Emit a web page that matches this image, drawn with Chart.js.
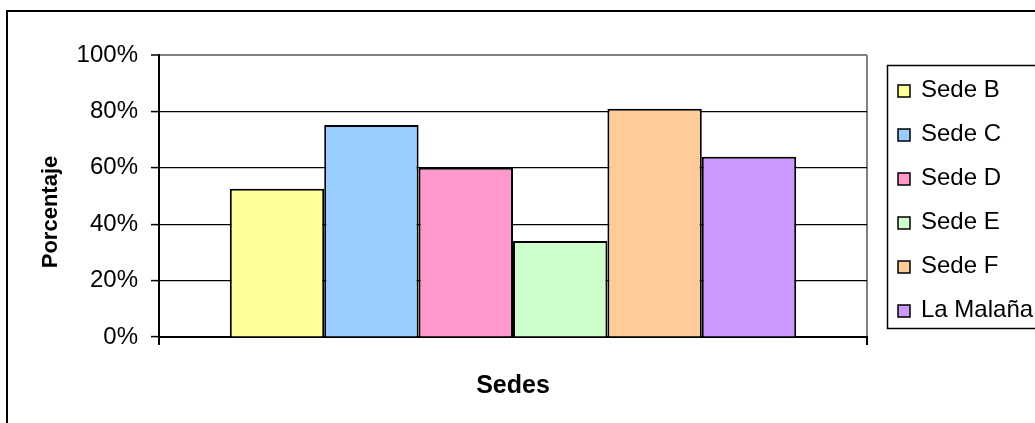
<!DOCTYPE html>
<html>
<head>
<meta charset="utf-8">
<title>Porcentaje por sede</title>
<script src="https://cdn.jsdelivr.net/npm/chart.js@4/dist/chart.umd.min.js"></script>
<style>
  html, body { margin: 0; padding: 0; background: #ffffff; }
  #chart { display: block; }
</style>
</head>
<body>
<canvas id="chart" width="1035" height="423"></canvas>
<script>
// Chart data
const categories = [''];
const seriesNames = ['Sede B', 'Sede C', 'Sede D', 'Sede E', 'Sede F', 'La Malaña'];
const seriesValues = [52.6, 75.2, 60.0, 34.0, 80.9, 63.9];
const yTickValues = [0, 20, 40, 60, 80, 100];
const yAxisTitle = 'Porcentaje';
const xAxisTitle = 'Sedes';

// Styling
const seriesColors = ['#FFFF99', '#99CCFF', '#FF99CC', '#CCFFCC', '#FFCC99', '#CC99FF'];
const FONT = '"Liberation Sans", Arial, Helvetica, sans-serif';

Chart.defaults.font.family = FONT;
Chart.defaults.color = '#000000';

const datasets = seriesNames.map((name, i) => ({
  label: name,
  data: [seriesValues[i]],
  backgroundColor: seriesColors[i],
  borderColor: '#000000',
  borderWidth: 2,
  categoryPercentage: 0.8,
  barPercentage: 1.0
}));

// Frame, legend and axis titles drawn on top of the chart
const decorations = {
  id: 'decorations',
  afterDraw(chart) {
    const ctx = chart.ctx;
    const area = chart.chartArea;
    ctx.save();

    // outer frame
    ctx.strokeStyle = '#000000';
    ctx.lineWidth = 2;
    ctx.strokeRect(7, 11, 1100, 500);

    // legend box
    ctx.lineWidth = 1.5;
    ctx.strokeRect(887.5, 65.5, 200, 263);

    ctx.font = '24px ' + FONT;
    ctx.textAlign = 'left';
    ctx.textBaseline = 'alphabetic';
    chart.data.datasets.forEach((ds, i) => {
      const base = 97 + i * 44;
      ctx.fillStyle = ds.backgroundColor;
      ctx.fillRect(898, base - 12, 12, 12);
      ctx.strokeStyle = '#000000';
      ctx.lineWidth = 1.5;
      ctx.strokeRect(898, base - 12, 12, 12);
      ctx.fillStyle = '#000000';
      ctx.fillText(ds.label, 921, base);
    });

    // x axis title
    ctx.font = 'bold 25px ' + FONT;
    ctx.textAlign = 'center';
    ctx.fillText(xAxisTitle, (area.left + area.right) / 2, 393);

    // y axis title
    ctx.font = 'bold 22px ' + FONT;
    ctx.translate(56.5, 212);
    ctx.rotate(-Math.PI / 2);
    ctx.fillText(yAxisTitle, 0, 0);

    ctx.restore();
  }
};

new Chart(document.getElementById('chart'), {
  type: 'bar',
  data: { labels: categories, datasets: datasets },
  plugins: [decorations],
  options: {
    responsive: false,
    animation: false,
    devicePixelRatio: 1,
    layout: { padding: { left: 0, top: 55, right: 168, bottom: 0 } },
    plugins: {
      legend: { display: false },
      tooltip: { enabled: false },
      title: { display: false }
    },
    scales: {
      x: {
        type: 'category',
        offset: true,
        afterFit(scale) { scale.height = 86; },
        grid: {
          display: true,
          offset: true,
          drawOnChartArea: true,
          drawTicks: true,
          tickLength: 8,
          color: (c) => (c.index === 0 ? '#000000' : '#808080'),
          tickColor: '#000000',
          lineWidth: 2
        },
        border: { display: true, color: '#000000', width: 2 },
        ticks: { display: false }
      },
      y: {
        min: 0,
        max: 100,
        afterFit(scale) { scale.width = 159; },
        afterBuildTicks(scale) {
          scale.ticks = yTickValues.map(v => ({ value: v }));
        },
        grid: {
          display: true,
          drawTicks: true,
          tickLength: 8,
          color: (c) => (c.tick && c.tick.value === 100 ? '#808080' : '#000000'),
          lineWidth: (c) => (c.tick && c.tick.value === 100 ? 2 : 1.2),
          tickColor: '#000000',
          tickWidth: 1.5
        },
        border: { display: true, color: '#000000', width: 2 },
        ticks: {
          padding: 13,
          font: { size: 24 },
          color: '#000000',
          callback: (v) => v + '%'
        }
      }
    }
  }
});
</script>
</body>
</html>
